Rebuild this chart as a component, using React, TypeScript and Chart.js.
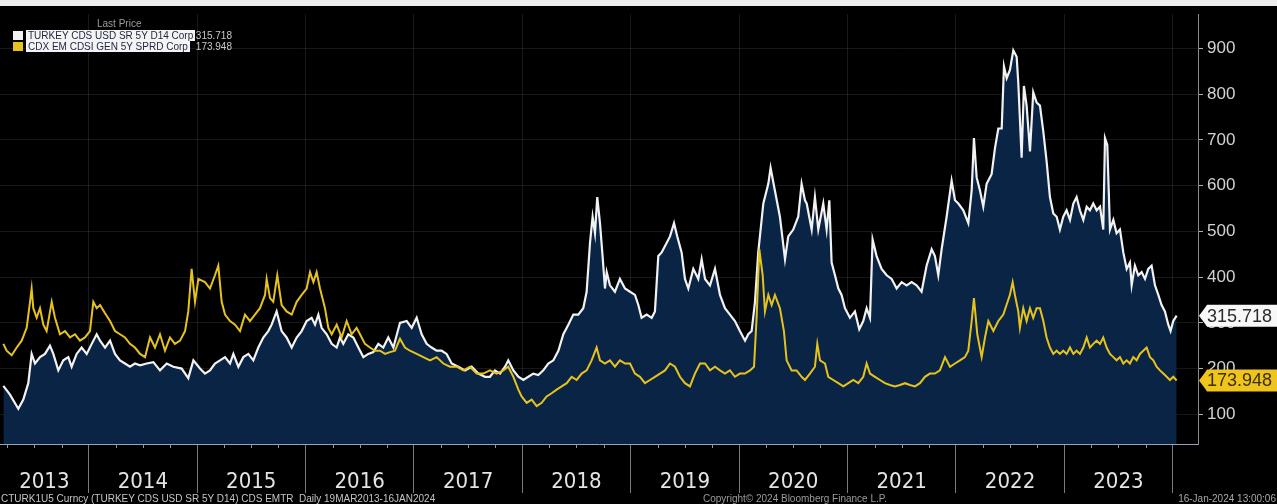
import React, { useEffect, useRef } from 'react';
import { Chart, registerables } from 'chart.js';

Chart.register(...registerables);

// ---------- DATA (dates are decimal years) ----------
const turkeyDates = [
  2013.213, 2013.274, 2013.351, 2013.397, 2013.443, 2013.474, 2013.505, 2013.551, 2013.597, 2013.643,
  2013.674, 2013.72, 2013.766, 2013.812, 2013.843, 2013.889, 2013.935, 2013.982, 2014.028, 2014.074,
  2014.105, 2014.151, 2014.197, 2014.243, 2014.289, 2014.335, 2014.381, 2014.427, 2014.474, 2014.535,
  2014.597, 2014.658, 2014.72, 2014.781, 2014.858, 2014.919, 2014.966, 2015.027, 2015.073, 2015.119,
  2015.165, 2015.212, 2015.258, 2015.304, 2015.335, 2015.381, 2015.427, 2015.473, 2015.519, 2015.565,
  2015.611, 2015.657, 2015.688, 2015.734, 2015.78, 2015.826, 2015.873, 2015.919, 2015.965, 2016.011,
  2016.057, 2016.088, 2016.119, 2016.149, 2016.196, 2016.242, 2016.288, 2016.319, 2016.349, 2016.395,
  2016.442, 2016.488, 2016.534, 2016.58, 2016.626, 2016.672, 2016.718, 2016.764, 2016.811, 2016.872,
  2016.934, 2016.98, 2017.026, 2017.072, 2017.118, 2017.164, 2017.21, 2017.256, 2017.302, 2017.349,
  2017.41, 2017.472, 2017.533, 2017.595, 2017.656, 2017.702, 2017.748, 2017.795, 2017.841, 2017.871,
  2017.918, 2017.964, 2018.01, 2018.056, 2018.102, 2018.148, 2018.194, 2018.24, 2018.287, 2018.333,
  2018.379, 2018.425, 2018.471, 2018.517, 2018.563, 2018.594, 2018.625, 2018.649, 2018.671, 2018.692,
  2018.717, 2018.741, 2018.763, 2018.779, 2018.809, 2018.855, 2018.901, 2018.948, 2018.994, 2019.04,
  2019.071, 2019.101, 2019.148, 2019.194, 2019.224, 2019.255, 2019.286, 2019.317, 2019.363, 2019.4,
  2019.43, 2019.47, 2019.501, 2019.532, 2019.578, 2019.624, 2019.655, 2019.686, 2019.732, 2019.778,
  2019.824, 2019.87, 2019.916, 2019.962, 2020.008, 2020.055, 2020.085, 2020.116, 2020.147, 2020.177,
  2020.224, 2020.27, 2020.291, 2020.331, 2020.377, 2020.424, 2020.454, 2020.5, 2020.546, 2020.577,
  2020.608, 2020.624, 2020.67, 2020.7, 2020.731, 2020.777, 2020.808, 2020.833, 2020.854, 2020.885,
  2020.916, 2020.946, 2020.977, 2021.023, 2021.069, 2021.109, 2021.146, 2021.177, 2021.208, 2021.232,
  2021.269, 2021.315, 2021.362, 2021.408, 2021.454, 2021.5, 2021.546, 2021.592, 2021.638, 2021.684,
  2021.73, 2021.777, 2021.807, 2021.838, 2021.869, 2021.915, 2021.961, 2021.992, 2022.023, 2022.069,
  2022.115, 2022.146, 2022.167, 2022.192, 2022.223, 2022.253, 2022.284, 2022.33, 2022.361, 2022.392,
  2022.423, 2022.444, 2022.469, 2022.499, 2022.53, 2022.561, 2022.576, 2022.607, 2022.628, 2022.653,
  2022.684, 2022.714, 2022.745, 2022.776, 2022.807, 2022.837, 2022.868, 2022.899, 2022.93, 2022.96,
  2022.991, 2023.022, 2023.053, 2023.084, 2023.114, 2023.145, 2023.176, 2023.207, 2023.237, 2023.268,
  2023.299, 2023.33, 2023.36, 2023.376, 2023.397, 2023.422, 2023.453, 2023.483, 2023.514, 2023.545,
  2023.576, 2023.606, 2023.622, 2023.652, 2023.683, 2023.714, 2023.745, 2023.775, 2023.806, 2023.837,
  2023.868, 2023.898, 2023.929, 2023.96, 2023.981, 2024.006, 2024.037,
];
const turkeyValues = [
  162, 143, 112, 132, 168, 232, 211, 225, 232, 250,
  232, 196, 218, 225, 204, 232, 246, 232, 254, 275,
  261, 246, 261, 232, 218, 211, 204, 211, 207, 211,
  214, 196, 211, 204, 200, 179, 218, 200, 189, 196,
  211, 218, 225, 211, 232, 204, 225, 232, 218, 246,
  268, 282, 296, 325, 282, 268, 246, 268, 282, 304,
  311, 296, 318, 289, 275, 254, 246, 268, 254, 275,
  268, 246, 225, 232, 236, 254, 246, 268, 246, 300,
  304, 289, 311, 275, 254, 246, 239, 239, 232, 211,
  204, 196, 204, 189, 182, 182, 196, 189, 204, 218,
  196, 182, 175, 182, 189, 186, 196, 211, 218, 239,
  275, 296, 318, 318, 332, 368, 475, 532, 496, 575,
  518, 446, 375, 411, 382, 368, 396, 375, 368, 361,
  339, 311, 318, 311, 325, 446, 454, 468, 489, 518,
  489, 454, 396, 375, 418, 396, 439, 396, 382, 418,
  361, 332, 318, 304, 282, 261, 275, 282, 346, 454,
  561, 604, 639, 589, 532, 439, 489, 504, 532, 604,
  568, 561, 504, 575, 504, 561, 504, 568, 432, 404,
  375, 361, 332, 311, 325, 286, 304, 332, 311, 482,
  446, 418, 404, 396, 375, 389, 382, 389, 382, 368,
  425, 461, 446, 404, 461, 532, 611, 568, 561, 546,
  518, 589, 704, 618, 589, 554, 604, 625, 682, 725,
  725, 861, 835, 853, 896, 882, 825, 661, 818, 775,
  675, 804, 782, 775, 718, 654, 575, 539, 532, 504,
  532, 546, 525, 561, 575, 546, 525, 554, 546, 561,
  546, 554, 504, 704, 689, 504, 525, 496, 504, 454,
  418, 432, 382, 425, 404, 411, 396, 418, 425, 382,
  361, 339, 325, 296, 282, 304, 315.718,
];

const cdxDates = [
  2013.213, 2013.243, 2013.29, 2013.336, 2013.382, 2013.428, 2013.459, 2013.474, 2013.489, 2013.52,
  2013.551, 2013.582, 2013.612, 2013.659, 2013.689, 2013.735, 2013.782, 2013.828, 2013.874, 2013.92,
  2013.966, 2014.012, 2014.043, 2014.074, 2014.105, 2014.151, 2014.197, 2014.243, 2014.289, 2014.335,
  2014.381, 2014.427, 2014.474, 2014.52, 2014.566, 2014.612, 2014.658, 2014.704, 2014.75, 2014.796,
  2014.843, 2014.889, 2014.919, 2014.95, 2014.981, 2015.012, 2015.073, 2015.119, 2015.165, 2015.196,
  2015.227, 2015.258, 2015.304, 2015.35, 2015.396, 2015.442, 2015.488, 2015.534, 2015.58, 2015.627,
  2015.642, 2015.673, 2015.703, 2015.74, 2015.78, 2015.826, 2015.873, 2015.919, 2015.965, 2016.011,
  2016.042, 2016.073, 2016.103, 2016.134, 2016.18, 2016.211, 2016.242, 2016.288, 2016.334, 2016.38,
  2016.426, 2016.472, 2016.503, 2016.549, 2016.595, 2016.641, 2016.688, 2016.734, 2016.78, 2016.826,
  2016.872, 2016.918, 2016.964, 2017.026, 2017.087, 2017.149, 2017.21, 2017.272, 2017.333, 2017.395,
  2017.456, 2017.518, 2017.579, 2017.641, 2017.702, 2017.764, 2017.825, 2017.871, 2017.918, 2017.964,
  2017.994, 2018.041, 2018.087, 2018.133, 2018.179, 2018.225, 2018.271, 2018.317, 2018.364, 2018.41,
  2018.456, 2018.502, 2018.548, 2018.594, 2018.64, 2018.686, 2018.717, 2018.763, 2018.809, 2018.855,
  2018.901, 2018.948, 2018.994, 2019.04, 2019.086, 2019.132, 2019.178, 2019.224, 2019.271, 2019.317,
  2019.363, 2019.409, 2019.455, 2019.501, 2019.547, 2019.593, 2019.64, 2019.686, 2019.732, 2019.778,
  2019.824, 2019.87, 2019.916, 2019.962, 2020.008, 2020.055, 2020.101, 2020.138, 2020.162, 2020.187,
  2020.218, 2020.239, 2020.27, 2020.301, 2020.331, 2020.377, 2020.414, 2020.439, 2020.485, 2020.531,
  2020.577, 2020.608, 2020.654, 2020.7, 2020.722, 2020.747, 2020.793, 2020.823, 2020.869, 2020.916,
  2020.962, 2021.008, 2021.054, 2021.1, 2021.146, 2021.177, 2021.208, 2021.254, 2021.3, 2021.346,
  2021.392, 2021.438, 2021.485, 2021.531, 2021.577, 2021.623, 2021.669, 2021.715, 2021.761, 2021.807,
  2021.853, 2021.9, 2021.946, 2021.992, 2022.038, 2022.084, 2022.115, 2022.146, 2022.167, 2022.198,
  2022.238, 2022.269, 2022.3, 2022.346, 2022.392, 2022.438, 2022.469, 2022.499, 2022.524, 2022.545,
  2022.576, 2022.591, 2022.622, 2022.653, 2022.684, 2022.714, 2022.745, 2022.776, 2022.807, 2022.837,
  2022.868, 2022.899, 2022.93, 2022.96, 2022.991, 2023.022, 2023.053, 2023.084, 2023.114, 2023.145,
  2023.176, 2023.207, 2023.237, 2023.268, 2023.299, 2023.33, 2023.36, 2023.391, 2023.422, 2023.453,
  2023.483, 2023.514, 2023.545, 2023.576, 2023.606, 2023.637, 2023.668, 2023.698, 2023.729, 2023.76,
  2023.791, 2023.822, 2023.852, 2023.883, 2023.914, 2023.945, 2023.975, 2024.006, 2024.037,
];
const cdxValues = [
  254, 239, 229, 246, 261, 289, 346, 375, 332, 311,
  332, 296, 282, 346, 311, 275, 282, 268, 275, 261,
  268, 282, 346, 332, 339, 321, 304, 282, 275, 268,
  254, 246, 232, 225, 268, 246, 275, 239, 268, 254,
  261, 282, 325, 418, 346, 396, 389, 375, 404, 425,
  346, 318, 304, 296, 282, 318, 304, 318, 332, 361,
  396, 354, 346, 404, 339, 325, 318, 346, 361, 375,
  411, 389, 411, 375, 332, 289, 275, 296, 268, 304,
  275, 289, 275, 254, 246, 239, 239, 232, 236, 239,
  265, 246, 239, 232, 225, 218, 225, 211, 204, 204,
  196, 204, 189, 189, 196, 189, 196, 204, 182, 154,
  139, 125, 132, 118, 125, 139, 146, 154, 161, 168,
  182, 175, 189, 196, 218, 246, 218, 211, 218, 204,
  218, 211, 211, 189, 182, 168, 175, 182, 189, 196,
  211, 204, 182, 168, 161, 189, 211, 211, 196, 204,
  196, 189, 196, 182, 189, 189, 196, 204, 311, 461,
  404, 325, 361, 339, 361, 332, 282, 218, 196, 196,
  182, 175, 189, 204, 254, 218, 211, 182, 175, 168,
  161, 168, 175, 168, 182, 211, 189, 182, 175, 168,
  164, 161, 164, 168, 164, 161, 168, 182, 189, 189,
  196, 225, 204, 211, 218, 225, 239, 304, 354, 275,
  225, 268, 304, 282, 304, 318, 340, 361, 389, 361,
  325, 289, 332, 304, 332, 311, 332, 332, 304, 268,
  246, 232, 239, 232, 239, 232, 246, 232, 239, 232,
  246, 268, 246, 254, 261, 254, 268, 246, 232, 225,
  218, 225, 211, 218, 211, 225, 218, 232, 239, 246,
  225, 218, 204, 196, 189, 182, 175, 182, 173.948,
];

const seriesNames = ['TURKEY CDS USD SR 5Y D14 Corp', 'CDX EM CDSI GEN 5Y SPRD Corp'];
const lastPrices = ['315.718', '173.948'];
const yearLabels = ['2013', '2014', '2015', '2016', '2017', '2018', '2019', '2020', '2021', '2022', '2023'];
const yearBoundaries = [2014, 2015, 2016, 2017, 2018, 2019, 2020, 2021, 2022, 2023, 2024];
const yTickValues = [100, 200, 300, 400, 500, 600, 700, 800, 900];
const xRange = [2013.182, 2024.234];
const yRange = [35, 975];
const legendTitle = 'Last Price';
const footerLeft = 'CTURK1U5 Curncy (TURKEY CDS USD SR 5Y D14) CDS EMTR  Daily 19MAR2013-16JAN2024';
const footerCenter = 'Copyright\u00A9 2024 Bloomberg Finance L.P.';
const footerRight = '16-Jan-2024 13:00:06';

// ---------- STYLE ----------
const WHITE = '#f2f2f2';
const YELLOW = '#e6c31c';
const NAVY = '#0a2446';
const FONT = "'Liberation Sans', Arial, sans-serif";
const NARROW = "'Liberation Sans Narrow', 'DejaVu Sans Condensed', 'Liberation Sans', Arial, sans-serif";

const labelPositions = yearLabels.map((_, i) =>
  i === 0 ? (xRange[0] + yearBoundaries[0]) / 2 : yearBoundaries[i - 1] + 0.5
);
const isBoundary = (v: number) => yearBoundaries.some((b) => Math.abs(b - v) < 1e-6);
const labelFor = (v: number) => {
  const i = labelPositions.findIndex((p) => Math.abs(p - v) < 1e-6);
  return i >= 0 ? yearLabels[i] : '';
};

const bbgPlugin = {
  id: 'bbgDecor',
  beforeDraw(chart: any) {
    const { ctx, width, height } = chart;
    ctx.save();
    ctx.fillStyle = '#000';
    ctx.fillRect(0, 0, width, height);
    ctx.fillStyle = '#ededed';
    ctx.fillRect(0, 0, width, 6);
    ctx.restore();
  },
  afterDraw(chart: any) {
    const { ctx, chartArea, width } = chart;
    const xs = chart.scales.x;
    const ys = chart.scales.y;
    ctx.save();
    // minor quarterly ticks under the axis line
    ctx.strokeStyle = '#8d97a8';
    ctx.lineWidth = 1;
    for (let q = Math.ceil(xs.min * 4) / 4; q <= xs.max; q += 0.25) {
      if (Math.abs(q - Math.round(q)) < 1e-6) continue;
      const px = Math.round(xs.getPixelForValue(q)) + 0.5;
      ctx.beginPath();
      ctx.moveTo(px, chartArea.bottom);
      ctx.lineTo(px, chartArea.bottom + 4);
      ctx.stroke();
    }
    // last-price tags on the right axis
    const tags = [
      { v: turkeyValues[turkeyValues.length - 1], text: lastPrices[0], bg: '#f7f7f7', fg: '#2b2b2b' },
      { v: cdxValues[cdxValues.length - 1], text: lastPrices[1], bg: '#efc41c', fg: '#3a2f00' },
    ];
    tags.forEach((t) => {
      const y = ys.getPixelForValue(t.v);
      const tip = chartArea.right + 1;
      const left = chartArea.right + 7;
      const top = y - 11;
      const bottom = y + 11;
      ctx.beginPath();
      ctx.moveTo(tip, y);
      ctx.lineTo(left, top + 3);
      ctx.lineTo(left + 2, top);
      ctx.lineTo(width, top);
      ctx.lineTo(width, bottom);
      ctx.lineTo(left + 2, bottom);
      ctx.lineTo(left, bottom - 3);
      ctx.closePath();
      ctx.fillStyle = t.bg;
      ctx.fill();
      ctx.fillStyle = t.fg;
      ctx.font = `18px ${FONT}`;
      ctx.textBaseline = 'middle';
      ctx.textAlign = 'left';
      ctx.fillText(t.text, left + 2, y + 1);
    });
    ctx.restore();
  },
};

export default function App() {
  const canvasRef = useRef<HTMLCanvasElement | null>(null);

  useEffect(() => {
    document.body.style.margin = '0';
    document.body.style.background = '#000';
    const canvas = canvasRef.current;
    if (!canvas) return;
    const chart = new Chart(canvas, {
      type: 'line',
      data: {
        datasets: [
          {
            label: seriesNames[1],
            data: cdxDates.map((d, i) => ({ x: d, y: cdxValues[i] })),
            borderColor: YELLOW,
            borderWidth: 2,
            pointRadius: 0,
            fill: false,
            tension: 0,
          },
          {
            label: seriesNames[0],
            data: turkeyDates.map((d, i) => ({ x: d, y: turkeyValues[i] })),
            borderColor: WHITE,
            borderWidth: 2.2,
            pointRadius: 0,
            fill: 'origin',
            backgroundColor: NAVY,
            tension: 0,
          },
        ],
      },
      options: {
        animation: false,
        responsive: false,
        maintainAspectRatio: false,
        layout: { padding: { top: 7, left: 0, right: 0, bottom: 0 } },
        plugins: { legend: { display: false }, tooltip: { enabled: false } },
        scales: {
          x: {
            type: 'linear',
            position: 'bottom',
            min: xRange[0],
            max: xRange[1],
            afterFit: (s: any) => {
              s.height = 60;
            },
            afterBuildTicks: (s: any) => {
              s.ticks = [...yearBoundaries, ...labelPositions]
                .sort((a, b) => a - b)
                .map((v) => ({ value: v }));
            },
            ticks: {
              autoSkip: false,
              maxRotation: 0,
              minRotation: 0,
              padding: -24,
              color: '#e4e4e4',
              font: { family: NARROW, size: 22 },
              callback: (v: any) => labelFor(Number(v)),
            },
            grid: {
              color: (c: any) => (c.tick && isBoundary(c.tick.value) ? 'rgba(255,255,255,0.10)' : 'rgba(0,0,0,0)'),
              tickColor: (c: any) => (c.tick && isBoundary(c.tick.value) ? '#7a7a7a' : 'rgba(0,0,0,0)'),
              tickLength: 49,
              lineWidth: 1,
            },
            border: { display: true, color: '#9aa4b4', width: 1 },
          },
          y: {
            type: 'linear',
            position: 'right',
            min: yRange[0],
            max: yRange[1],
            afterFit: (s: any) => {
              s.width = 79;
            },
            afterBuildTicks: (s: any) => {
              s.ticks = yTickValues.map((v) => ({ value: v }));
            },
            ticks: {
              padding: 4,
              color: '#d2d2d2',
              font: { family: FONT, size: 17 },
              callback: (v: any) => String(v),
            },
            grid: {
              color: 'rgba(255,255,255,0.09)',
              tickColor: '#b0b0b0',
              tickLength: 5,
            },
            border: { display: true, color: '#8a8a8a', width: 1 },
          },
        },
      },
      plugins: [bbgPlugin],
    } as any);
    return () => chart.destroy();
  }, []);

  const small: React.CSSProperties = {
    position: 'absolute',
    fontFamily: FONT,
    fontSize: 10,
    lineHeight: '11px',
    whiteSpace: 'pre',
  };

  return (
    <div style={{ position: 'relative', width: 1277, height: 504, background: '#000', overflow: 'hidden' }}>
      <canvas ref={canvasRef} width={1277} height={504} style={{ position: 'absolute', left: 0, top: 0, width: 1277, height: 504 }} />
      <div style={{ ...small, left: 97, top: 18, color: '#9c9c9c' }}>{legendTitle}</div>
      <div style={{ position: 'absolute', left: 13, top: 31, width: 10, height: 9, background: WHITE }} />
      <div style={{ ...small, left: 26, top: 30, background: '#f4f4f4', color: '#1c2440', padding: '0 2px' }}>{seriesNames[0]}</div>
      <div style={{ ...small, left: 192, top: 30, width: 40, textAlign: 'right', color: '#c8c8c8' }}>{lastPrices[0]}</div>
      <div style={{ position: 'absolute', left: 13, top: 42, width: 10, height: 9, background: YELLOW }} />
      <div style={{ ...small, left: 26, top: 41, background: '#f4f4f4', color: '#1c2440', padding: '0 2px' }}>{seriesNames[1]}</div>
      <div style={{ ...small, left: 192, top: 41, width: 40, textAlign: 'right', color: '#c8c8c8' }}>{lastPrices[1]}</div>
      <div style={{ ...small, left: 1, top: 493, color: '#c4c4c4' }}>{footerLeft}</div>
      <div style={{ ...small, left: 703, top: 493, color: '#9a9a9a' }}>{footerCenter}</div>
      <div style={{ ...small, right: 1, top: 493, color: '#a8a8a8' }}>{footerRight}</div>
    </div>
  );
}
